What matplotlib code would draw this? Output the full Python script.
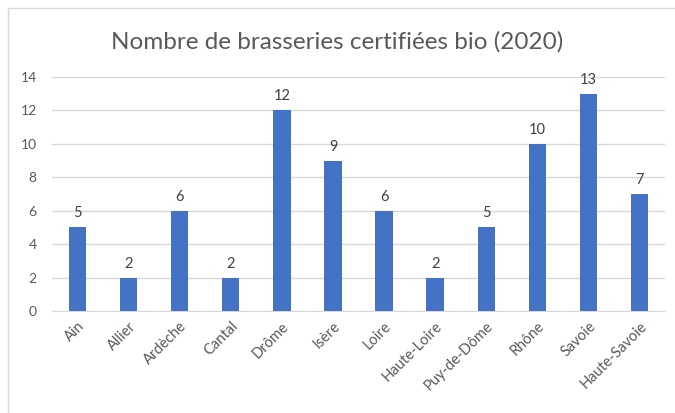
import matplotlib.pyplot as plt
from matplotlib.patches import Rectangle

departements = ["Ain", "Allier", "Ardèche", "Cantal", "Drôme", "Isère", "Loire",
                "Haute-Loire", "Puy-de-Dôme", "Rhône", "Savoie", "Haute-Savoie"]
brasseries = [5, 2, 6, 2, 12, 9, 6, 2, 5, 10, 13, 7]
yticks = [0, 2, 4, 6, 8, 10, 12, 14]

plt.rcParams['font.family'] = ['Lato', 'DejaVu Sans']

fig = plt.figure(figsize=(6.75, 4.13), dpi=100)
ax = fig.add_axes([52 / 675, 1 - 311 / 413, 613 / 675, 234 / 413])

# chart frame (only top and left edges visible in the crop)
fig.patches.append(Rectangle((8 / 675, -0.1), 1.2, (405 / 413) + 0.1,
                             transform=fig.transFigure, fill=False,
                             edgecolor="#D9D9D9", linewidth=1))

x = range(len(departements))
bars = ax.bar(x, brasseries, width=0.34, color="#4472C4", zorder=3)
ax.bar_label(bars, padding=5, fontsize=10.5, color="#404040")

ax.set_xlim(-0.5, len(departements) - 0.5)
ax.set_ylim(0, 14)
ax.set_yticks(yticks)
ax.set_xticks(list(x))
ax.set_xticklabels(departements, rotation=45, ha="right", rotation_mode="anchor",
                   fontsize=10.5, color="#595959")
ax.tick_params(axis="y", labelsize=10, labelcolor="#595959", length=0, pad=11)
ax.tick_params(axis="x", length=0, pad=6)

ax.grid(axis="y", color="#D9D9D9", linewidth=1, zorder=0)
for side in ["top", "right", "left"]:
    ax.spines[side].set_visible(False)
ax.spines["bottom"].set_color("#D9D9D9")

fig.text(0.5, 1 - 42 / 413, "Nombre de brasseries certifiées bio (2020)",
         ha="center", va="center", fontsize=17.5, color="#595959")

fig.savefig("out.png", dpi=100)
